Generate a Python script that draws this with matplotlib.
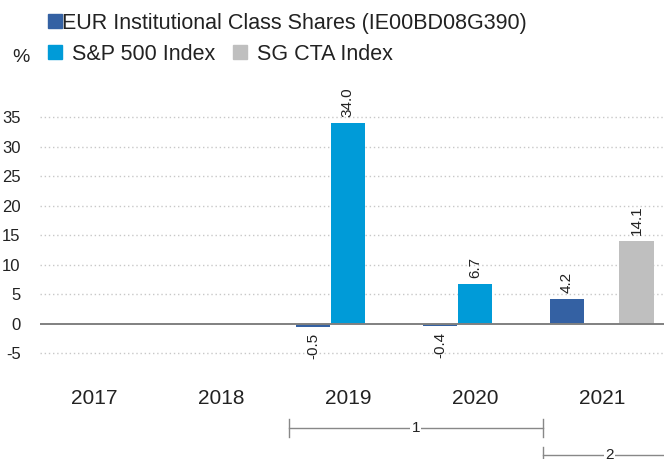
import numpy as np
import matplotlib.pyplot as plt
from matplotlib.patches import Rectangle
from matplotlib.transforms import blended_transform_factory

plt.rcParams['font.family'] = ['Liberation Sans', 'DejaVu Sans']

years = ['2017', '2018', '2019', '2020', '2021']
eur_shares = [None, None, -0.5, -0.4, 4.2]
sp500 = [None, None, 34.0, 6.7, None]
sg_cta = [None, None, None, None, 14.1]
series_names = ['EUR Institutional Class Shares (IE00BD08G390)', 'S&P 500 Index', 'SG CTA Index']
colors = ['#3461a3', '#009bd8', '#bfbfbf']
yticks = [-5, 0, 5, 10, 15, 20, 25, 30, 35]

W, H = 664, 459
fig = plt.figure(figsize=(W / 100, H / 100), dpi=100)
ax = fig.add_axes([40 / W, 1 - 371 / H, 624 / W, (371 - 87.6) / H])

x = np.arange(len(years))
bw = 0.272
offsets = [-0.275, 0.0, 0.275]
for k, vals in enumerate([eur_shares, sp500, sg_cta]):
    for i, v in enumerate(vals):
        if v is None:
            continue
        ax.bar(x[i] + offsets[k], v, width=bw, color=colors[k], zorder=3)
        if v >= 0:
            ax.text(x[i] + offsets[k], v + 1.0, f'{v:.1f}', rotation=90,
                    ha='center', va='bottom', fontsize=11, color='#222222')
        else:
            ax.text(x[i] + offsets[k], v - 1.0, f'{v:.1f}', rotation=90,
                    ha='center', va='top', fontsize=11, color='#222222')

ax.set_xlim(-0.425, 4.49)
ax.set_ylim(-8, 40)
for t in yticks:
    if t == 0:
        ax.axhline(0, color='#808080', lw=1.4, zorder=4)
    else:
        ax.axhline(t, color='#c8c8c8', lw=1, ls=(0, (1, 2)), zorder=1)
ax.set_yticks(yticks)
ax.set_yticklabels([str(t) for t in yticks], fontsize=12, color='#222222')
ax.tick_params(axis='y', length=0, pad=14)
ax.set_xticks([])
for s in ax.spines.values():
    s.set_visible(False)

trans = blended_transform_factory(ax.transData, fig.transFigure)
for i, yr in enumerate(years):
    ax.text(x[i], 1 - 398 / H, yr, transform=trans, ha='center', va='center',
            fontsize=15, color='#222222')

# period brackets
def bracket(x0, x1, ypx, label, tick_top, tick_bot):
    yf = 1 - ypx / H
    ax.plot([x0, x1], [yf, yf], transform=trans, color='#888888', lw=1, clip_on=False)
    for xx in (x0, x1):
        ax.plot([xx, xx], [1 - tick_top / H, 1 - tick_bot / H], transform=trans,
                color='#888888', lw=1, clip_on=False)
    ax.text((x0 + x1) / 2, yf, label, transform=trans, ha='center', va='center',
            fontsize=11, color='#222222',
            bbox=dict(facecolor='white', edgecolor='none', pad=1))

bracket(1.535, 3.535, 428, '1', 419, 437)
yf2 = 1 - 455 / H
ax.plot([3.535, 4.6], [yf2, yf2], transform=trans, color='#888888', lw=1, clip_on=False)
ax.plot([3.535, 3.535], [1 - 447 / H, 0], transform=trans, color='#888888', lw=1, clip_on=False)
ax.text(4.06, yf2, '2', transform=trans, ha='center', va='center', fontsize=11,
        color='#222222', bbox=dict(facecolor='white', edgecolor='none', pad=1))

# legend
def legend_item(xpx, ypx, color, label, textx, sq=14):
    fig.patches.append(Rectangle((xpx / W, 1 - (ypx + sq / 2) / H), sq / W, sq / H,
                                 transform=fig.transFigure, color=color))
    fig.text(textx / W, 1 - ypx / H, label, ha='left', va='center_baseline',
             fontsize=15.5, color='#222222')

legend_item(48, 21, colors[0], series_names[0], 62)
legend_item(48, 52, colors[1], series_names[1], 72)
legend_item(233, 52, colors[2], series_names[2], 257)
fig.text(12 / W, 1 - 55 / H, '%', ha='left', va='center_baseline', fontsize=14, color='#222222')

fig.savefig('out.png', dpi=100)
